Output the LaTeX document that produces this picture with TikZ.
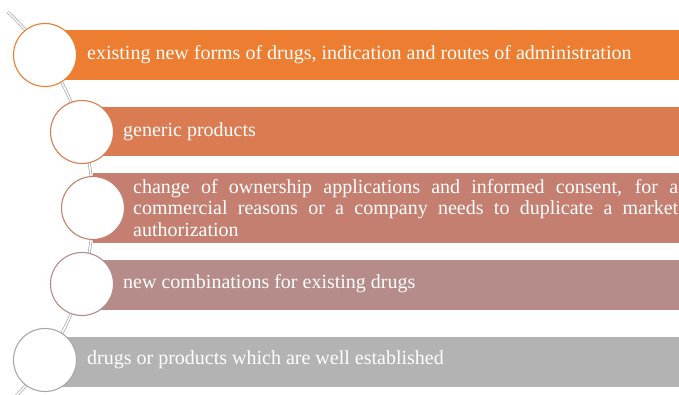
\documentclass[tikz,border=0pt]{standalone}
\usepackage{fontspec}
\setmainfont{Liberation Serif}
\definecolor{cA}{HTML}{ED7D31}
\definecolor{cB}{HTML}{DB7B52}
\definecolor{cC}{HTML}{C47F70}
\definecolor{cD}{HTML}{B58C89}
\definecolor{cE}{HTML}{B3B3B3}
\definecolor{cEline}{HTML}{A8A8A8}
\definecolor{rail}{HTML}{B0B0B0}
\begin{document}
\begin{tikzpicture}[x=1pt,y=-1pt,
  bar/.style={fill=#1,draw=none},
  ring/.style={circle,draw=#1,fill=white,line width=1.1pt,minimum size=63pt,inner sep=0pt},
  lbl/.style={text=white,font=\fontsize{20}{21.5}\selectfont,anchor=west,inner sep=0pt}]
\useasboundingbox (0,0) rectangle (679,395);
\clip (0,0) rectangle (679,395);
% rail
\draw[rail,line width=0.8pt,double=white,double distance=1.4pt]
  plot[domain=-47:47,samples=80] ({-175+268*cos(\x)},{208+268*sin(\x)});
% bars
\fill[bar=cA] (45,30) rectangle (690,80);
\fill[bar=cB] (82,107) rectangle (690,156);
\fill[bar=cC] (93,173) rectangle (690,243);
\fill[bar=cD] (82,260) rectangle (690,310);
\fill[bar=cE] (45,337) rectangle (690,387);
% circles
\node[ring=cA] (c1) at (45,55) {};
\node[ring=cB] (c2) at (82,132) {};
\node[ring=cC] (c3) at (93,208) {};
\node[ring=cD] (c4) at (82,284) {};
\node[ring=cEline] (c5) at (45,360) {};
% labels
\node[lbl] (t1) at (87,55) {existing new forms of drugs, indication and routes of administration};
\node[lbl] (t2) at (123,132) {generic products};
\node[lbl,text width=545pt,align=justify] (t3) at (133,208) {change of ownership applications and informed consent, for a\linebreak commercial reasons or a company needs to duplicate a market\linebreak authorization};
\node[lbl] (t4) at (123,284) {new combinations for existing drugs};
\node[lbl] (t5) at (87,360) {drugs or products which are well established};
\end{tikzpicture}
\end{document}
